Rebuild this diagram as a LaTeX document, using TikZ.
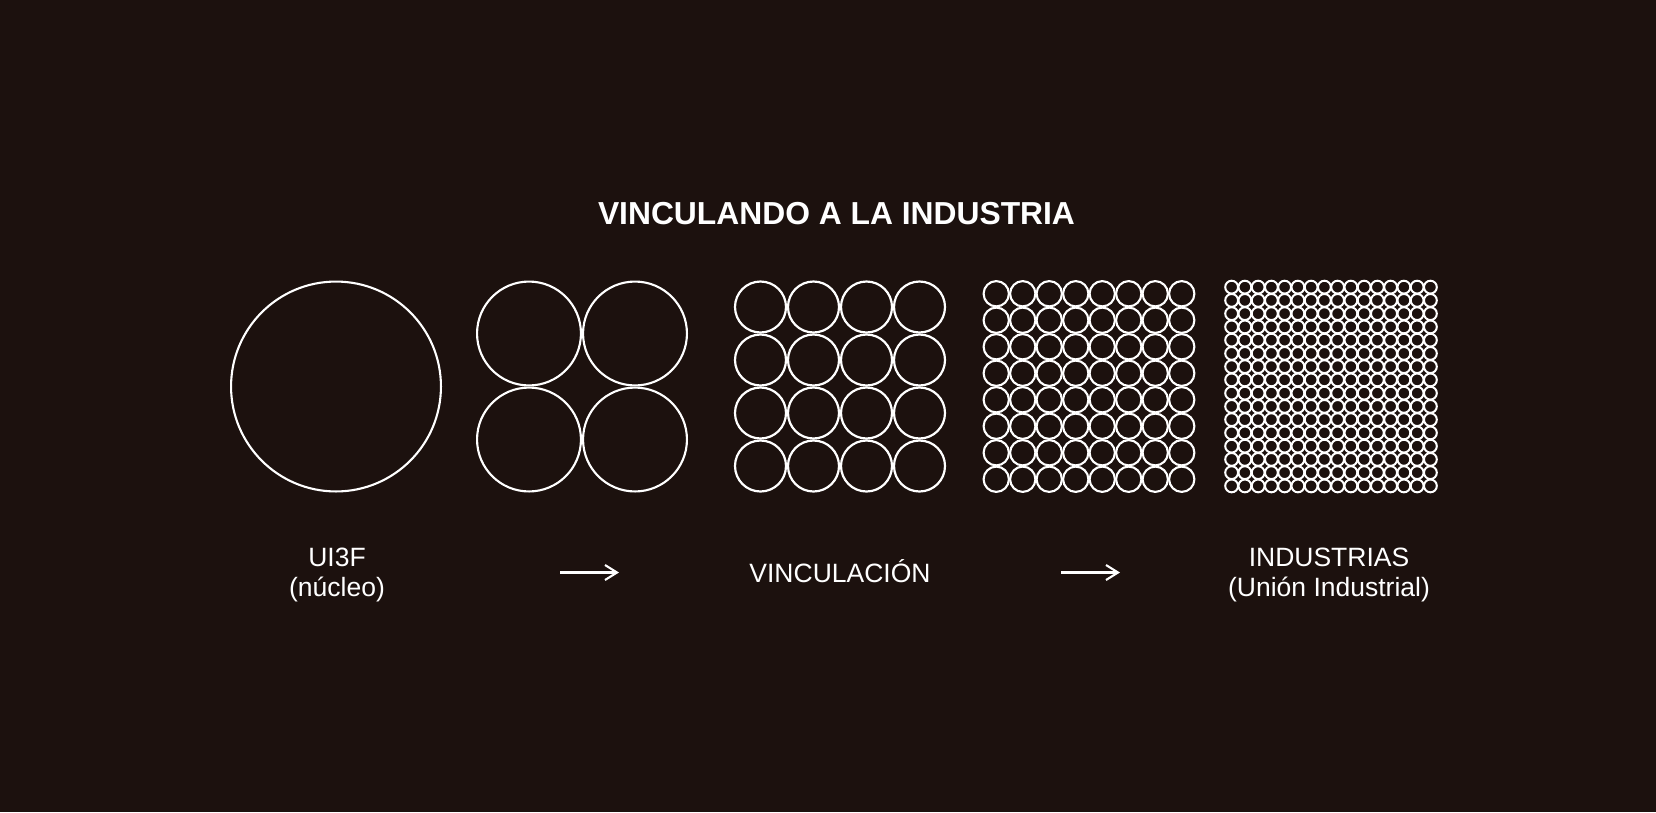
\documentclass[tikz,border=0pt]{standalone}
\usepackage{fontspec}
\setmainfont{Liberation Sans}
\setsansfont{Liberation Sans}
\usetikzlibrary{arrows.meta}
\definecolor{bgc}{RGB}{28,17,14}
\begin{document}
\begin{tikzpicture}[x=1pt,y=-1pt,
  ring/.style={draw=white,line width=#1},
  lbl/.style={text=white,inner sep=0pt,anchor=base,font=\fontsize{26.5}{30}\selectfont},
  ttl/.style={text=white,inner sep=0pt,anchor=base,font=\bfseries\fontsize{31.8}{36}\selectfont},
  flow/.style={draw=white,line width=2.1,-{Straight Barb[length=12,width=15,line width=2.1]}}]
\fill[bgc] (0,0) rectangle (1656,812);
\useasboundingbox (0,0) rectangle (1656,812);
\def\S{212}
\def\cy{386.5}
% groups: center x, n, stroke, shrink of radius
\foreach \cx/\n/\lw/\sh in {336/1/2.1/1.05, 582/2/2.1/1.05, 840/4/2.2/1.0, 1089/8/2.1/0.6, 1331/16/2.0/0.2}{
  \pgfmathsetmacro\r{\S/(2*\n)}
  \pgfmathsetmacro\xo{\cx-\S/2}
  \pgfmathsetmacro\yo{\cy-\S/2}
  \pgfmathtruncatemacro\m{\n-1}
  \foreach \i in {0,...,\m}{
    \foreach \j in {0,...,\m}{
      \draw[ring=\lw] ({\xo+\r*(2*\i+1)},{\yo+\r*(2*\j+1)}) circle[radius=\r-\sh];
    }
  }
}
\node[ttl] (title) at (836.5,224) {VINCULANDO A LA INDUSTRIA};
\node[lbl] (ui3f) at (337,566) {UI3F};
\node[lbl] (nucleo) at (337,596) {(núcleo)};
\node[lbl] (vinc) at (840,582) {VINCULACIÓN};
\node[lbl] (ind) at (1329,566) {INDUSTRIAS};
\node[lbl] (union) at (1329,596) {(Unión Industrial)};
\coordinate (a1s) at (560,572.5);
\coordinate (a1e) at (619,572.5);
\coordinate (a2s) at (1061,572.5);
\coordinate (a2e) at (1120,572.5);
\draw[flow] (a1s) -- (a1e);
\draw[flow] (a2s) -- (a2e);
\end{tikzpicture}
\end{document}
